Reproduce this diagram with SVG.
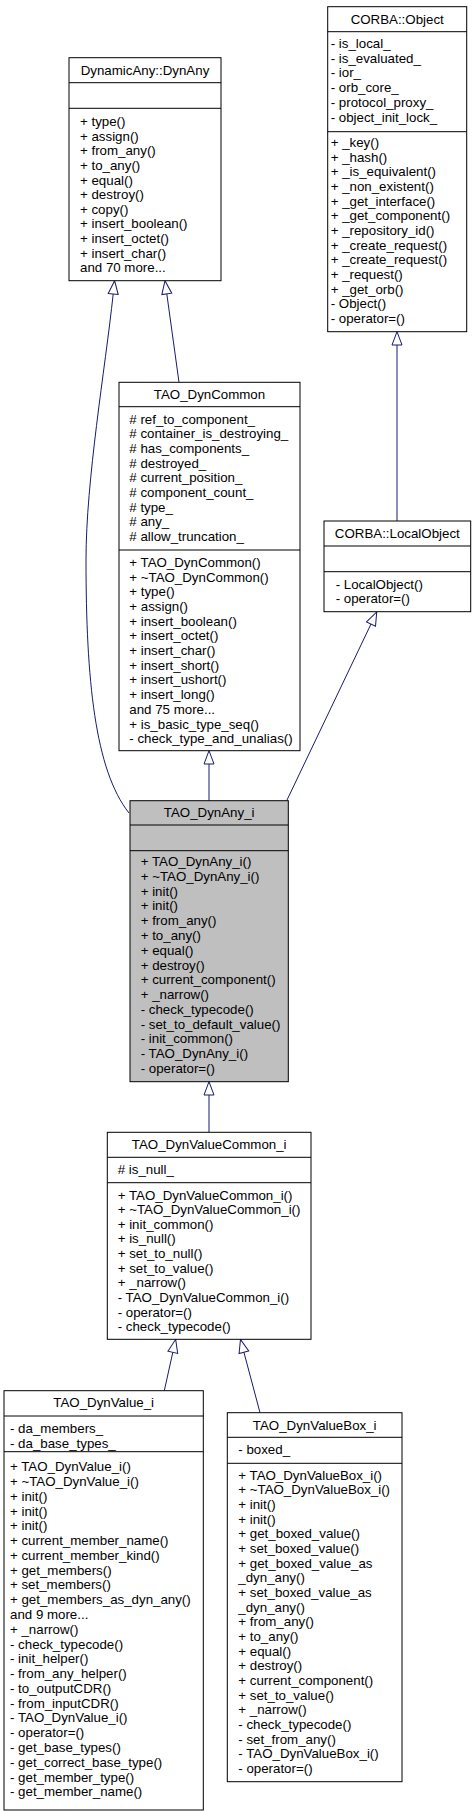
<svg xmlns="http://www.w3.org/2000/svg" width="476" height="1811" viewBox="0 0 476 1811">
<style>
.box{fill:#ffffff;stroke:#000000;stroke-width:1}
.cur{fill:#bfbfbf;stroke:#000000;stroke-width:1}
.sep{stroke:#000000;stroke-width:1}
text{font-family:"Liberation Sans",Arial,Helvetica,sans-serif;font-size:13.3px;fill:#000000}
.t{text-anchor:middle}
.edge{fill:none;stroke:#191970;stroke-width:1}
</style>
<defs>
<marker id="inh" markerUnits="userSpaceOnUse" markerWidth="16" markerHeight="12" refX="0" refY="5" orient="auto" viewBox="-1 -1 16 12">
<path d="M0,0 L13.3,5 L0,10 Z" fill="#ffffff" stroke="#191970" stroke-width="1"/>
</marker>
</defs>
<rect x="0" y="0" width="476" height="1811" fill="#ffffff"/>

<g id="connectors">
<path class="edge" d="M179,382.3 L166.8,293.9" marker-end="url(#inh)"/>
<path class="edge" d="M129,813 C95,770 86,680 86,560 C86,480 105,370 113.2,294" marker-end="url(#inh)"/>
<path class="edge" d="M209,800.7 L209,764" marker-end="url(#inh)"/>
<path class="edge" d="M286.7,800.7 L371,624" marker-end="url(#inh)"/>
<path class="edge" d="M397,521 L397,345" marker-end="url(#inh)"/>
<path class="edge" d="M209,1132.3 L209,1095" marker-end="url(#inh)"/>
<path class="edge" d="M164.3,1390.7 L172.8,1352.3" marker-end="url(#inh)"/>
<path class="edge" d="M260,1412.7 L243.9,1352.2" marker-end="url(#inh)"/>
</g>

<g id="DynAny">
<rect class="box" x="69" y="57.7" width="152" height="223"/>
<line class="sep" x1="69" y1="82.7" x2="221" y2="82.7"/>
<line class="sep" x1="69" y1="108.3" x2="221" y2="108.3"/>
<text class="t" x="145" y="74.7">DynamicAny::DynAny</text>
<text x="80" y="126.2"><tspan x="80">+ type()</tspan><tspan x="80" dy="14.6">+ assign()</tspan><tspan x="80" dy="14.6">+ from_any()</tspan><tspan x="80" dy="14.6">+ to_any()</tspan><tspan x="80" dy="14.6">+ equal()</tspan><tspan x="80" dy="14.6">+ destroy()</tspan><tspan x="80" dy="14.6">+ copy()</tspan><tspan x="80" dy="14.6">+ insert_boolean()</tspan><tspan x="80" dy="14.6">+ insert_octet()</tspan><tspan x="80" dy="14.6">+ insert_char()</tspan><tspan x="80" dy="14.6">and 70 more...</tspan></text>
</g>

<g id="CORBA_Object">
<rect class="box" x="327.7" y="6.7" width="139" height="325"/>
<line class="sep" x1="327.7" y1="31.7" x2="466.7" y2="31.7"/>
<line class="sep" x1="327.7" y1="131.7" x2="466.7" y2="131.7"/>
<text class="t" x="397.2" y="23.7">CORBA::Object</text>
<text x="330.7" y="47.8"><tspan x="330.7">- is_local_</tspan><tspan x="330.7" dy="14.8">- is_evaluated_</tspan><tspan x="330.7" dy="14.8">- ior_</tspan><tspan x="330.7" dy="14.8">- orb_core_</tspan><tspan x="330.7" dy="14.8">- protocol_proxy_</tspan><tspan x="330.7" dy="14.8">- object_init_lock_</tspan></text>
<text x="330.7" y="147.2"><tspan x="330.7">+ _key()</tspan><tspan x="330.7" dy="14.63">+ _hash()</tspan><tspan x="330.7" dy="14.63">+ _is_equivalent()</tspan><tspan x="330.7" dy="14.63">+ _non_existent()</tspan><tspan x="330.7" dy="14.63">+ _get_interface()</tspan><tspan x="330.7" dy="14.63">+ _get_component()</tspan><tspan x="330.7" dy="14.63">+ _repository_id()</tspan><tspan x="330.7" dy="14.63">+ _create_request()</tspan><tspan x="330.7" dy="14.63">+ _create_request()</tspan><tspan x="330.7" dy="14.63">+ _request()</tspan><tspan x="330.7" dy="14.63">+ _get_orb()</tspan><tspan x="330.7" dy="14.63">- Object()</tspan><tspan x="330.7" dy="14.63">- operator=()</tspan></text>
</g>

<g id="TAO_DynCommon">
<rect class="box" x="119" y="382.3" width="181" height="368.4"/>
<line class="sep" x1="119" y1="406.7" x2="300" y2="406.7"/>
<line class="sep" x1="119" y1="550" x2="300" y2="550"/>
<text class="t" x="209.5" y="399">TAO_DynCommon</text>
<text x="129.3" y="423.5"><tspan x="129.3"># ref_to_component_</tspan><tspan x="129.3" dy="14.7"># container_is_destroying_</tspan><tspan x="129.3" dy="14.7"># has_components_</tspan><tspan x="129.3" dy="14.7"># destroyed_</tspan><tspan x="129.3" dy="14.7"># current_position_</tspan><tspan x="129.3" dy="14.7"># component_count_</tspan><tspan x="129.3" dy="14.7"># type_</tspan><tspan x="129.3" dy="14.7"># any_</tspan><tspan x="129.3" dy="14.7"># allow_truncation_</tspan></text>
<text x="129.3" y="566.8"><tspan x="129.3">+ TAO_DynCommon()</tspan><tspan x="129.3" dy="14.7">+ ~TAO_DynCommon()</tspan><tspan x="129.3" dy="14.7">+ type()</tspan><tspan x="129.3" dy="14.7">+ assign()</tspan><tspan x="129.3" dy="14.7">+ insert_boolean()</tspan><tspan x="129.3" dy="14.7">+ insert_octet()</tspan><tspan x="129.3" dy="14.7">+ insert_char()</tspan><tspan x="129.3" dy="14.7">+ insert_short()</tspan><tspan x="129.3" dy="14.7">+ insert_ushort()</tspan><tspan x="129.3" dy="14.7">+ insert_long()</tspan><tspan x="129.3" dy="14.7">and 75 more...</tspan><tspan x="129.3" dy="14.7">+ is_basic_type_seq()</tspan><tspan x="129.3" dy="14.7">- check_type_and_unalias()</tspan></text>
</g>

<g id="CORBA_LocalObject">
<rect class="box" x="324" y="521" width="146.7" height="90.7"/>
<line class="sep" x1="324" y1="546" x2="470.7" y2="546"/>
<line class="sep" x1="324" y1="571.7" x2="470.7" y2="571.7"/>
<text class="t" x="397.3" y="538">CORBA::LocalObject</text>
<text x="335.7" y="588.5"><tspan x="335.7">- LocalObject()</tspan><tspan x="335.7" dy="14.8">- operator=()</tspan></text>
</g>

<g id="TAO_DynAny_i">
<rect class="cur" x="130" y="800.7" width="158.3" height="281"/>
<line class="sep" x1="130" y1="825" x2="288.3" y2="825"/>
<line class="sep" x1="130" y1="850.7" x2="288.3" y2="850.7"/>
<text class="t" x="209.2" y="817.3">TAO_DynAny_i</text>
<text x="140.7" y="866.2"><tspan x="140.7">+ TAO_DynAny_i()</tspan><tspan x="140.7" dy="14.76">+ ~TAO_DynAny_i()</tspan><tspan x="140.7" dy="14.76">+ init()</tspan><tspan x="140.7" dy="14.76">+ init()</tspan><tspan x="140.7" dy="14.76">+ from_any()</tspan><tspan x="140.7" dy="14.76">+ to_any()</tspan><tspan x="140.7" dy="14.76">+ equal()</tspan><tspan x="140.7" dy="14.76">+ destroy()</tspan><tspan x="140.7" dy="14.76">+ current_component()</tspan><tspan x="140.7" dy="14.76">+ _narrow()</tspan><tspan x="140.7" dy="14.76">- check_typecode()</tspan><tspan x="140.7" dy="14.76">- set_to_default_value()</tspan><tspan x="140.7" dy="14.76">- init_common()</tspan><tspan x="140.7" dy="14.76">- TAO_DynAny_i()</tspan><tspan x="140.7" dy="14.76">- operator=()</tspan></text>
</g>

<g id="TAO_DynValueCommon_i">
<rect class="box" x="107.3" y="1132.3" width="203.7" height="207"/>
<line class="sep" x1="107.3" y1="1157.3" x2="311" y2="1157.3"/>
<line class="sep" x1="107.3" y1="1182.7" x2="311" y2="1182.7"/>
<text class="t" x="209.2" y="1149.3">TAO_DynValueCommon_i</text>
<text x="117.7" y="1173.8"># is_null_</text>
<text x="117.7" y="1199.5"><tspan x="117.7">+ TAO_DynValueCommon_i()</tspan><tspan x="117.7" dy="14.63">+ ~TAO_DynValueCommon_i()</tspan><tspan x="117.7" dy="14.63">+ init_common()</tspan><tspan x="117.7" dy="14.63">+ is_null()</tspan><tspan x="117.7" dy="14.63">+ set_to_null()</tspan><tspan x="117.7" dy="14.63">+ set_to_value()</tspan><tspan x="117.7" dy="14.63">+ _narrow()</tspan><tspan x="117.7" dy="14.63">- TAO_DynValueCommon_i()</tspan><tspan x="117.7" dy="14.63">- operator=()</tspan><tspan x="117.7" dy="14.63">- check_typecode()</tspan></text>
</g>

<g id="TAO_DynValue_i">
<rect class="box" x="4" y="1390.7" width="199.3" height="419.3"/>
<line class="sep" x1="4" y1="1416" x2="203.3" y2="1416"/>
<line class="sep" x1="4" y1="1451.7" x2="203.3" y2="1451.7"/>
<text class="t" x="103.7" y="1406.8">TAO_DynValue_i</text>
<text x="10" y="1432.8"><tspan x="10">- da_members_</tspan><tspan x="10" dy="14.7">- da_base_types_</tspan></text>
<text x="10" y="1471.2"><tspan x="10">+ TAO_DynValue_i()</tspan><tspan x="10" dy="14.78">+ ~TAO_DynValue_i()</tspan><tspan x="10" dy="14.78">+ init()</tspan><tspan x="10" dy="14.78">+ init()</tspan><tspan x="10" dy="14.78">+ init()</tspan><tspan x="10" dy="14.78">+ current_member_name()</tspan><tspan x="10" dy="14.78">+ current_member_kind()</tspan><tspan x="10" dy="14.78">+ get_members()</tspan><tspan x="10" dy="14.78">+ set_members()</tspan><tspan x="10" dy="14.78">+ get_members_as_dyn_any()</tspan><tspan x="10" dy="14.78">and 9 more...</tspan><tspan x="10" dy="14.78">+ _narrow()</tspan><tspan x="10" dy="14.78">- check_typecode()</tspan><tspan x="10" dy="14.78">- init_helper()</tspan><tspan x="10" dy="14.78">- from_any_helper()</tspan><tspan x="10" dy="14.78">- to_outputCDR()</tspan><tspan x="10" dy="14.78">- from_inputCDR()</tspan><tspan x="10" dy="14.78">- TAO_DynValue_i()</tspan><tspan x="10" dy="14.78">- operator=()</tspan><tspan x="10" dy="14.78">- get_base_types()</tspan><tspan x="10" dy="14.78">- get_correct_base_type()</tspan><tspan x="10" dy="14.78">- get_member_type()</tspan><tspan x="10" dy="14.78">- get_member_name()</tspan></text>
</g>

<g id="TAO_DynValueBox_i">
<rect class="box" x="227.3" y="1412.7" width="174.7" height="369"/>
<line class="sep" x1="227.3" y1="1437.3" x2="402" y2="1437.3"/>
<line class="sep" x1="227.3" y1="1463.3" x2="402" y2="1463.3"/>
<text class="t" x="314.7" y="1429.5">TAO_DynValueBox_i</text>
<text x="238.3" y="1453.8">- boxed_</text>
<text x="238.3" y="1479.8"><tspan x="238.3">+ TAO_DynValueBox_i()</tspan><tspan x="238.3" dy="14.65">+ ~TAO_DynValueBox_i()</tspan><tspan x="238.3" dy="14.65">+ init()</tspan><tspan x="238.3" dy="14.65">+ init()</tspan><tspan x="238.3" dy="14.65">+ get_boxed_value()</tspan><tspan x="238.3" dy="14.65">+ set_boxed_value()</tspan><tspan x="238.3" dy="14.65">+ get_boxed_value_as</tspan><tspan x="238.3" dy="14.65">_dyn_any()</tspan><tspan x="238.3" dy="14.65">+ set_boxed_value_as</tspan><tspan x="238.3" dy="14.65">_dyn_any()</tspan><tspan x="238.3" dy="14.65">+ from_any()</tspan><tspan x="238.3" dy="14.65">+ to_any()</tspan><tspan x="238.3" dy="14.65">+ equal()</tspan><tspan x="238.3" dy="14.65">+ destroy()</tspan><tspan x="238.3" dy="14.65">+ current_component()</tspan><tspan x="238.3" dy="14.65">+ set_to_value()</tspan><tspan x="238.3" dy="14.65">+ _narrow()</tspan><tspan x="238.3" dy="14.65">- check_typecode()</tspan><tspan x="238.3" dy="14.65">- set_from_any()</tspan><tspan x="238.3" dy="14.65">- TAO_DynValueBox_i()</tspan><tspan x="238.3" dy="14.65">- operator=()</tspan></text>
</g>
</svg>
